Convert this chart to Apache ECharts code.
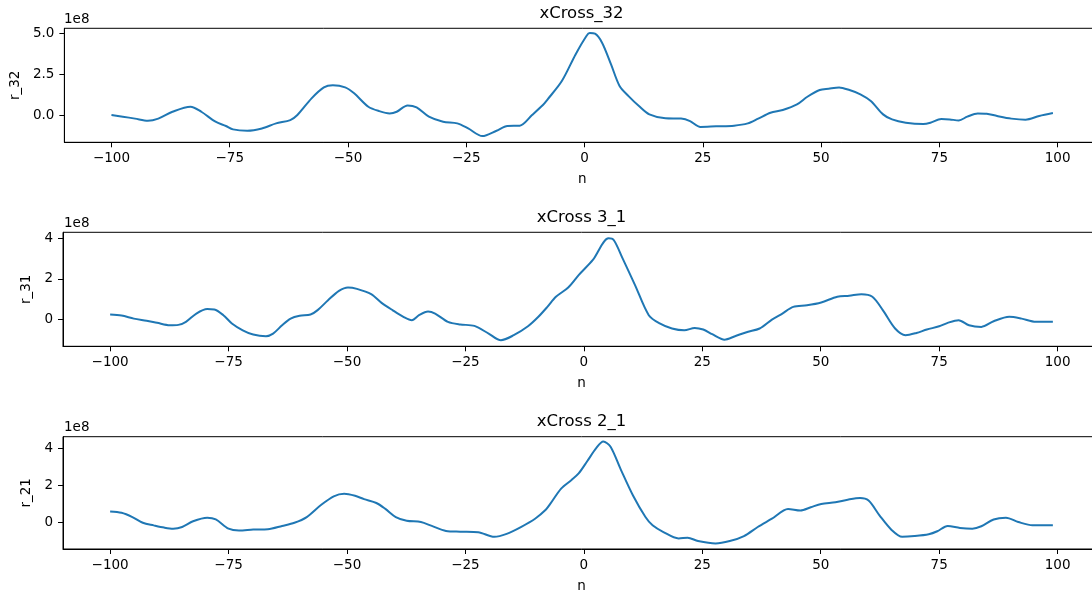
<!DOCTYPE html>
<html><head><meta charset="utf-8">
<script src="https://cdn.jsdelivr.net/npm/echarts@6/dist/echarts.min.js"></script>
<style>html,body{margin:0;padding:0;background:#fff;overflow:hidden;width:1092px;height:594px}#c{width:1102px;height:594px}</style>
</head><body><div id="c"></div>
<script>
// values in units of 1e8
const n32 = [-100,-97.6,-95,-92.3,-90.1,-87.1,-83.3,-81,-78,-75.8,-74.3,-71.3,-68.2,-65.2,-62.2,-60.7,-57.7,-55.1,-53.2,-50.6,-48.7,-45.7,-43.4,-41.2,-39.7,-37.4,-35.5,-32.9,-29.9,-26.9,-24.6,-21.6,-18.6,-16.3,-13.7,-11.1,-8.8,-7.8,-4.8,-1.9,0.4,1.1,2.2,3.7,5.6,7.4,9.3,11.5,13.7,17.1,20.4,22.3,24.5,27.8,31.6,34.5,36.7,39.3,41.9,44.9,47.1,49.7,51.6,53.8,56,58.3,60.5,63.1,65,67.9,71.6,73.1,75.4,77.2,79.1,80.9,83.1,85,87.2,90.2,93.2,96.1,99];
const r32 = [0,-0.1,-0.22,-0.35,-0.22,0.2,0.51,0.2,-0.41,-0.67,-0.88,-0.96,-0.82,-0.51,-0.31,0,1.02,1.69,1.82,1.69,1.33,0.51,0.24,0.1,0.2,0.59,0.47,-0.1,-0.41,-0.51,-0.82,-1.29,-0.96,-0.67,-0.65,0,0.61,0.96,2.08,3.71,4.84,5.02,4.98,4.43,3.1,1.78,1.16,0.55,0.04,-0.2,-0.22,-0.37,-0.73,-0.69,-0.65,-0.51,-0.22,0.14,0.31,0.65,1.12,1.53,1.61,1.69,1.53,1.27,0.86,0.04,-0.27,-0.47,-0.55,-0.47,-0.24,-0.27,-0.33,-0.1,0.1,0.08,-0.06,-0.22,-0.29,-0.06,0.12];

const n31 = [-100,-97.6,-95,-92.3,-90.1,-87.4,-85.6,-84,-81.8,-79.5,-78,-76.1,-74.3,-72,-69.8,-67.1,-65.6,-63.7,-61.9,-60,-57.7,-56.2,-54,-51.7,-49.8,-47.9,-44.9,-42.7,-40.4,-38.1,-36.3,-34.8,-32.9,-31.4,-28.7,-26.1,-23.1,-20.1,-17.5,-14.8,-11.8,-9.6,-7.7,-5.9,-3.3,-1.1,1.9,5.2,6.3,8.2,10.8,13.7,16,18.6,21.2,23.4,25.2,27.1,29.7,31.9,34.5,37.1,39.7,41.9,44.2,47.1,50.1,53.5,56,58.6,60.9,63.1,65.7,67.9,70.2,72.4,75,76.8,79.1,81.3,83.9,86.5,89.8,92.4,95.4,99];
const r31 = [0.23,0.18,0.03,-0.08,-0.18,-0.3,-0.28,-0.13,0.28,0.5,0.48,0.2,-0.21,-0.55,-0.76,-0.84,-0.71,-0.3,0.03,0.17,0.23,0.45,0.94,1.4,1.57,1.5,1.24,0.81,0.45,0.12,-0.05,0.2,0.38,0.28,-0.13,-0.26,-0.33,-0.71,-1.04,-0.79,-0.35,0.12,0.61,1.11,1.57,2.18,2.93,4.0,3.92,3.0,1.69,0.2,-0.21,-0.46,-0.55,-0.43,-0.51,-0.74,-1.01,-0.84,-0.63,-0.46,-0.02,0.28,0.61,0.69,0.83,1.11,1.16,1.24,1.11,0.45,-0.46,-0.79,-0.68,-0.51,-0.35,-0.18,-0.05,-0.3,-0.38,-0.1,0.12,0.03,-0.13,-0.13];

const n21 = [-100,-97.6,-95.3,-93.1,-90.8,-88.6,-86.7,-84.8,-82.5,-79.5,-77.7,-75,-72.8,-69.8,-66.7,-63.7,-61.1,-58.5,-55.5,-52.8,-50.6,-48.3,-46.4,-43.8,-41.9,-39.7,-37.4,-34.4,-32.1,-29.1,-26.1,-22.3,-18.9,-16.3,-13.3,-10.3,-8,-7.1,-4.8,-2.6,-1.1,0.7,2.6,4.1,5.6,7.8,10.4,13,14.5,16.7,20,21.9,24.1,27.8,30.8,33.8,36.7,39.7,43.1,45.7,47.9,50.1,53.1,55.7,58.3,60.1,62.4,65,67.2,69.8,72.8,74.6,76.8,79.4,82,83.9,86.5,89.1,91.7,94.7,99];
const r21 = [0.57,0.5,0.27,-0.04,-0.18,-0.3,-0.36,-0.27,0.04,0.23,0.14,-0.36,-0.46,-0.41,-0.39,-0.21,-0.04,0.27,0.92,1.39,1.53,1.42,1.24,1.03,0.71,0.27,0.07,0,-0.21,-0.48,-0.52,-0.55,-0.8,-0.64,-0.27,0.18,0.68,0.98,1.81,2.28,2.63,3.29,4.0,4.36,4.09,2.84,1.42,0.27,-0.18,-0.53,-0.89,-0.85,-1.03,-1.16,-1.03,-0.76,-0.27,0.18,0.71,0.62,0.8,0.98,1.07,1.21,1.3,1.16,0.36,-0.44,-0.8,-0.76,-0.66,-0.5,-0.21,-0.32,-0.36,-0.23,0.14,0.23,0,-0.18,-0.18];

const titles = ['xCross_32', 'xCross 3_1', 'xCross 2_1'];
const yNames = ['r_32', 'r_31', 'r_21'];
const xTicks = [-100, -75, -50, -25, 0, 25, 50, 75, 100];
const yTicks32 = [0, 2.5, 5];
const yTicks31 = [0, 2, 4];
const yTicks21 = [0, 2, 4];

const panels = [
  {n: n32, v: r32, yt: yTicks32, ymin: -1.67, ymax: 5.31, top: 28.3, dec: 1, gap: 38},
  {n: n31, v: r31, yt: yTicks31, ymin: -1.34, ymax: 4.3, top: 232.3, dec: 0, gap: 26},
  {n: n21, v: r21, yt: yTicks21, ymin: -1.46, ymax: 4.62, top: 436.7, dec: 0, gap: 26}
];
const H = 114, L = 63, W = 1037;
const FONT = 'DejaVu Sans';
const minus = s => String(s).replace('-', '\u2212');

const option = {
  animation: false,
  backgroundColor: '#fff',
  textStyle: {fontFamily: FONT},
  title: panels.map((p, i) => ({
    text: titles[i], left: 581.5, top: p.top - 23.5, textAlign: 'center', padding: 0,
    textStyle: {fontFamily: FONT, fontSize: 16.5, fontWeight: 'normal', color: '#000'}
  })),
  graphic: panels.map(p => ({
    type: 'text', left: L + 1, top: p.top - 16,
    style: {text: '1e8', fontFamily: FONT, fontSize: 13.5, fill: '#000'}
  })),
  grid: panels.map(p => ({left: L, width: W, top: p.top, height: H, show: true, borderColor: '#000', borderWidth: 1, backgroundColor: 'transparent'})),
  xAxis: panels.map((p, i) => ({
    type: 'value', gridIndex: i, min: -109.95, max: 108.95,
    name: 'n', nameLocation: 'middle', nameGap: 30,
    nameTextStyle: {fontFamily: FONT, fontSize: 13.5, color: '#000'},
    axisLine: {show: true, onZero: false, lineStyle: {color: '#000', width: 1}},
    axisTick: {show: true, length: 5, lineStyle: {color: '#000'}, customValues: xTicks},
    axisLabel: {fontFamily: FONT, fontSize: 13.5, color: '#000', margin: 9, customValues: xTicks, formatter: v => minus(v)},
    splitLine: {show: false}
  })),
  yAxis: panels.map((p, i) => ({
    type: 'value', gridIndex: i, min: p.ymin, max: p.ymax,
    name: yNames[i], nameLocation: 'middle', nameGap: p.gap, nameRotate: 90,
    nameTextStyle: {fontFamily: FONT, fontSize: 13.5, color: '#000'},
    axisLine: {show: true, onZero: false, lineStyle: {color: '#000', width: 1}},
    axisTick: {show: true, length: 5, lineStyle: {color: '#000'}, customValues: p.yt},
    axisLabel: {fontFamily: FONT, fontSize: 13.5, color: '#000', margin: 10, customValues: p.yt, formatter: v => minus(v.toFixed(p.dec))},
    splitLine: {show: false}
  })),
  series: panels.map((p, i) => ({
    type: 'line', xAxisIndex: i, yAxisIndex: i, showSymbol: false, smooth: 0.3,
    lineStyle: {color: '#1f77b4', width: 2},
    data: p.n.map((x, k) => [x, p.v[k]])
  }))
};
const chart = echarts.init(document.getElementById('c'), null, {renderer: 'canvas'});
chart.setOption(option);
</script></body></html>
